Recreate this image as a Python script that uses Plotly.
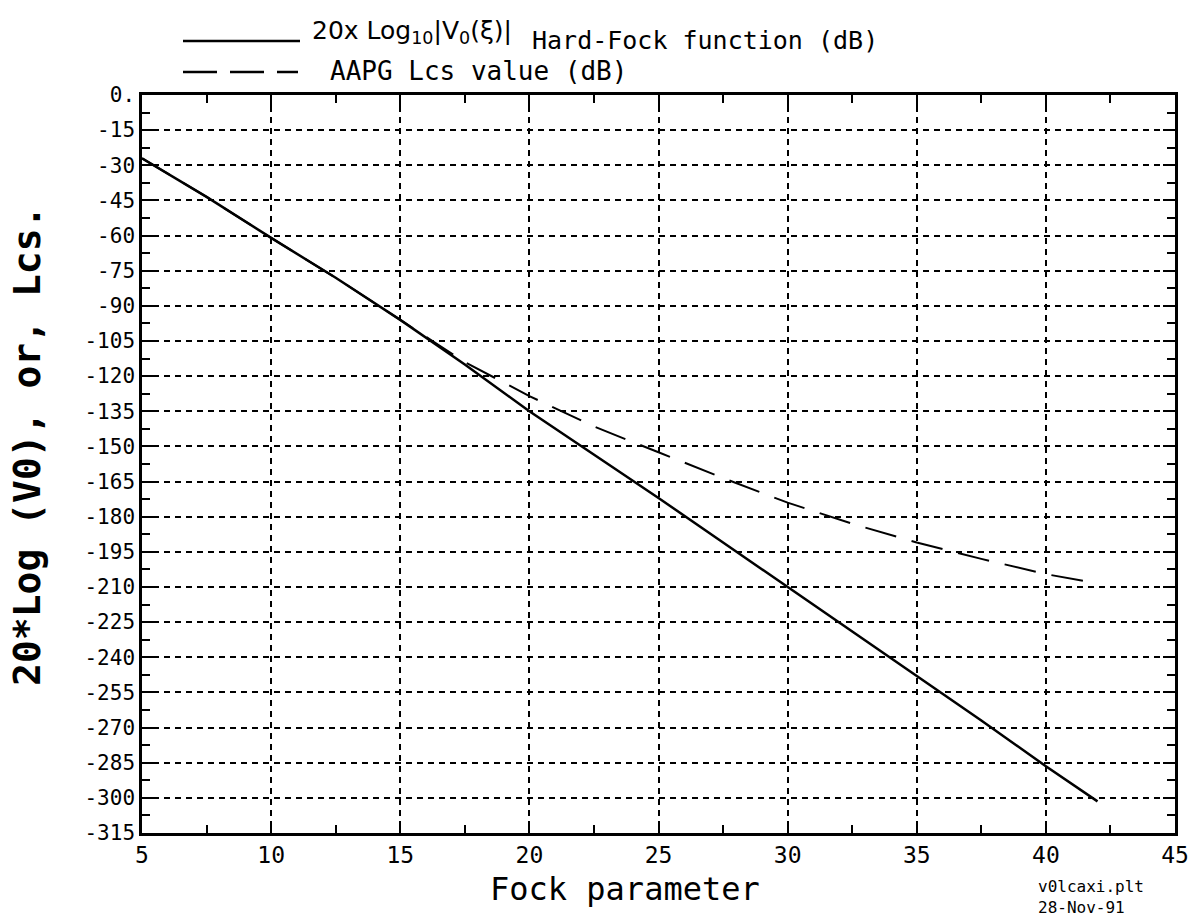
import plotly.graph_objects as go

# ---- data ----
fock = [5, 7.5, 10, 12.5, 15, 17.5, 20, 22.5, 25, 27.5, 30, 32.5, 35, 37.5, 40, 42]
hard_fock_db = [-27, -43.5, -61, -78, -96, -115, -135, -153.5, -172, -191, -210,
                -229, -248, -267, -286.5, -301.5]
aapg_lcs_db = [-27, -43.5, -61, -78, -96, -114, -128.5, -141.5, -152.5, -163.5,
               -174, -183, -191, -198, -204.5, -208.5]

x_ticks = [5, 10, 15, 20, 25, 30, 35, 40, 45]
y_ticks = [0, -15, -30, -45, -60, -75, -90, -105, -120, -135, -150, -165, -180,
           -195, -210, -225, -240, -255, -270, -285, -300, -315]
y_ticktext = ["0."] + [f"-{abs(v)}" for v in y_ticks[1:]]

MONO = "DejaVu Sans Mono"

fig = go.Figure()
fig.add_trace(go.Scatter(x=fock, y=hard_fock_db, mode="lines",
                         line=dict(color="black", width=2.5),
                         name="Hard-Fock function (dB)", showlegend=False))
fig.add_trace(go.Scatter(x=fock, y=aapg_lcs_db, mode="lines",
                         line=dict(color="black", width=2, dash="32px,16px"),
                         name="AAPG Lcs value (dB)", showlegend=False))

L, R, T, B = 142, 28, 95, 85
W, H = 1203, 918
pw, ph = W - L - R, H - T - B


def px(xp):
    return (xp - L) / pw


def py(yp):
    return (H - B - yp) / ph


axis_common = dict(
    showline=True, linecolor="black", linewidth=2.5, mirror="allticks",
    ticks="inside", ticklen=12, tickwidth=2, tickcolor="black",
    showgrid=True, gridcolor="black", gridwidth=1.6, griddash="6px,5px",
    zeroline=False,
)

fig.update_xaxes(range=[5, 45], tickvals=x_ticks, ticktext=[str(v) for v in x_ticks],
                 tickfont=dict(family=MONO, size=23, color="black"),
                 minor=dict(dtick=2.5, tick0=5, ticks="inside", ticklen=8,
                            tickwidth=2, tickcolor="black", showgrid=False),
                 **axis_common)
fig.update_yaxes(range=[-315, 0], tickvals=y_ticks, ticktext=y_ticktext,
                 tickfont=dict(family=MONO, size=21, color="black"),
                 minor=dict(dtick=7.5, tick0=0, ticks="inside", ticklen=8,
                            tickwidth=2, tickcolor="black", showgrid=False),
                 **axis_common)

annotations = [
    dict(text="Fock parameter", x=px(625), y=py(889), xref="paper", yref="paper",
         showarrow=False, font=dict(family=MONO, size=32, color="black"),
         xanchor="center", yanchor="middle"),
    dict(text="<b>20*Log (V0), or, Lcs.</b>", x=px(27), y=py(446), xref="paper",
         yref="paper", textangle=-90, showarrow=False,
         font=dict(family=MONO, size=38, color="black"),
         xanchor="center", yanchor="middle"),
    dict(text="20x Log<sub>10</sub>|V<sub>0</sub>(ξ)|", x=px(310), y=py(32),
         xref="paper", yref="paper", showarrow=False,
         font=dict(family="DejaVu Sans", size=25, color="black"),
         xanchor="left", yanchor="middle"),
    dict(text="Hard-Fock function (dB)", x=px(530), y=py(41), xref="paper",
         yref="paper", showarrow=False,
         font=dict(family=MONO, size=25, color="black"),
         xanchor="left", yanchor="middle"),
    dict(text="AAPG Lcs value (dB)", x=px(328), y=py(71), xref="paper",
         yref="paper", showarrow=False,
         font=dict(family=MONO, size=26, color="black"),
         xanchor="left", yanchor="middle"),
    dict(text="v0lcaxi.plt<br>28-Nov-91", x=px(1036), y=py(897), xref="paper",
         yref="paper", showarrow=False, align="left",
         font=dict(family=MONO, size=16, color="black"),
         xanchor="left", yanchor="middle"),
]

shapes = [
    dict(type="line", xref="paper", yref="paper", x0=px(183), x1=px(300),
         y0=py(41), y1=py(41), line=dict(color="black", width=2.5)),
    dict(type="line", xref="paper", yref="paper", x0=px(183), x1=px(298),
         y0=py(72), y1=py(72), line=dict(color="black", width=2.5, dash="34px,13px")),
]

fig.update_layout(
    width=W, height=H,
    margin=dict(l=L, r=R, t=T, b=B),
    paper_bgcolor="white", plot_bgcolor="white",
    annotations=annotations, shapes=shapes,
    showlegend=False,
)

fig.write_html("out.html")
